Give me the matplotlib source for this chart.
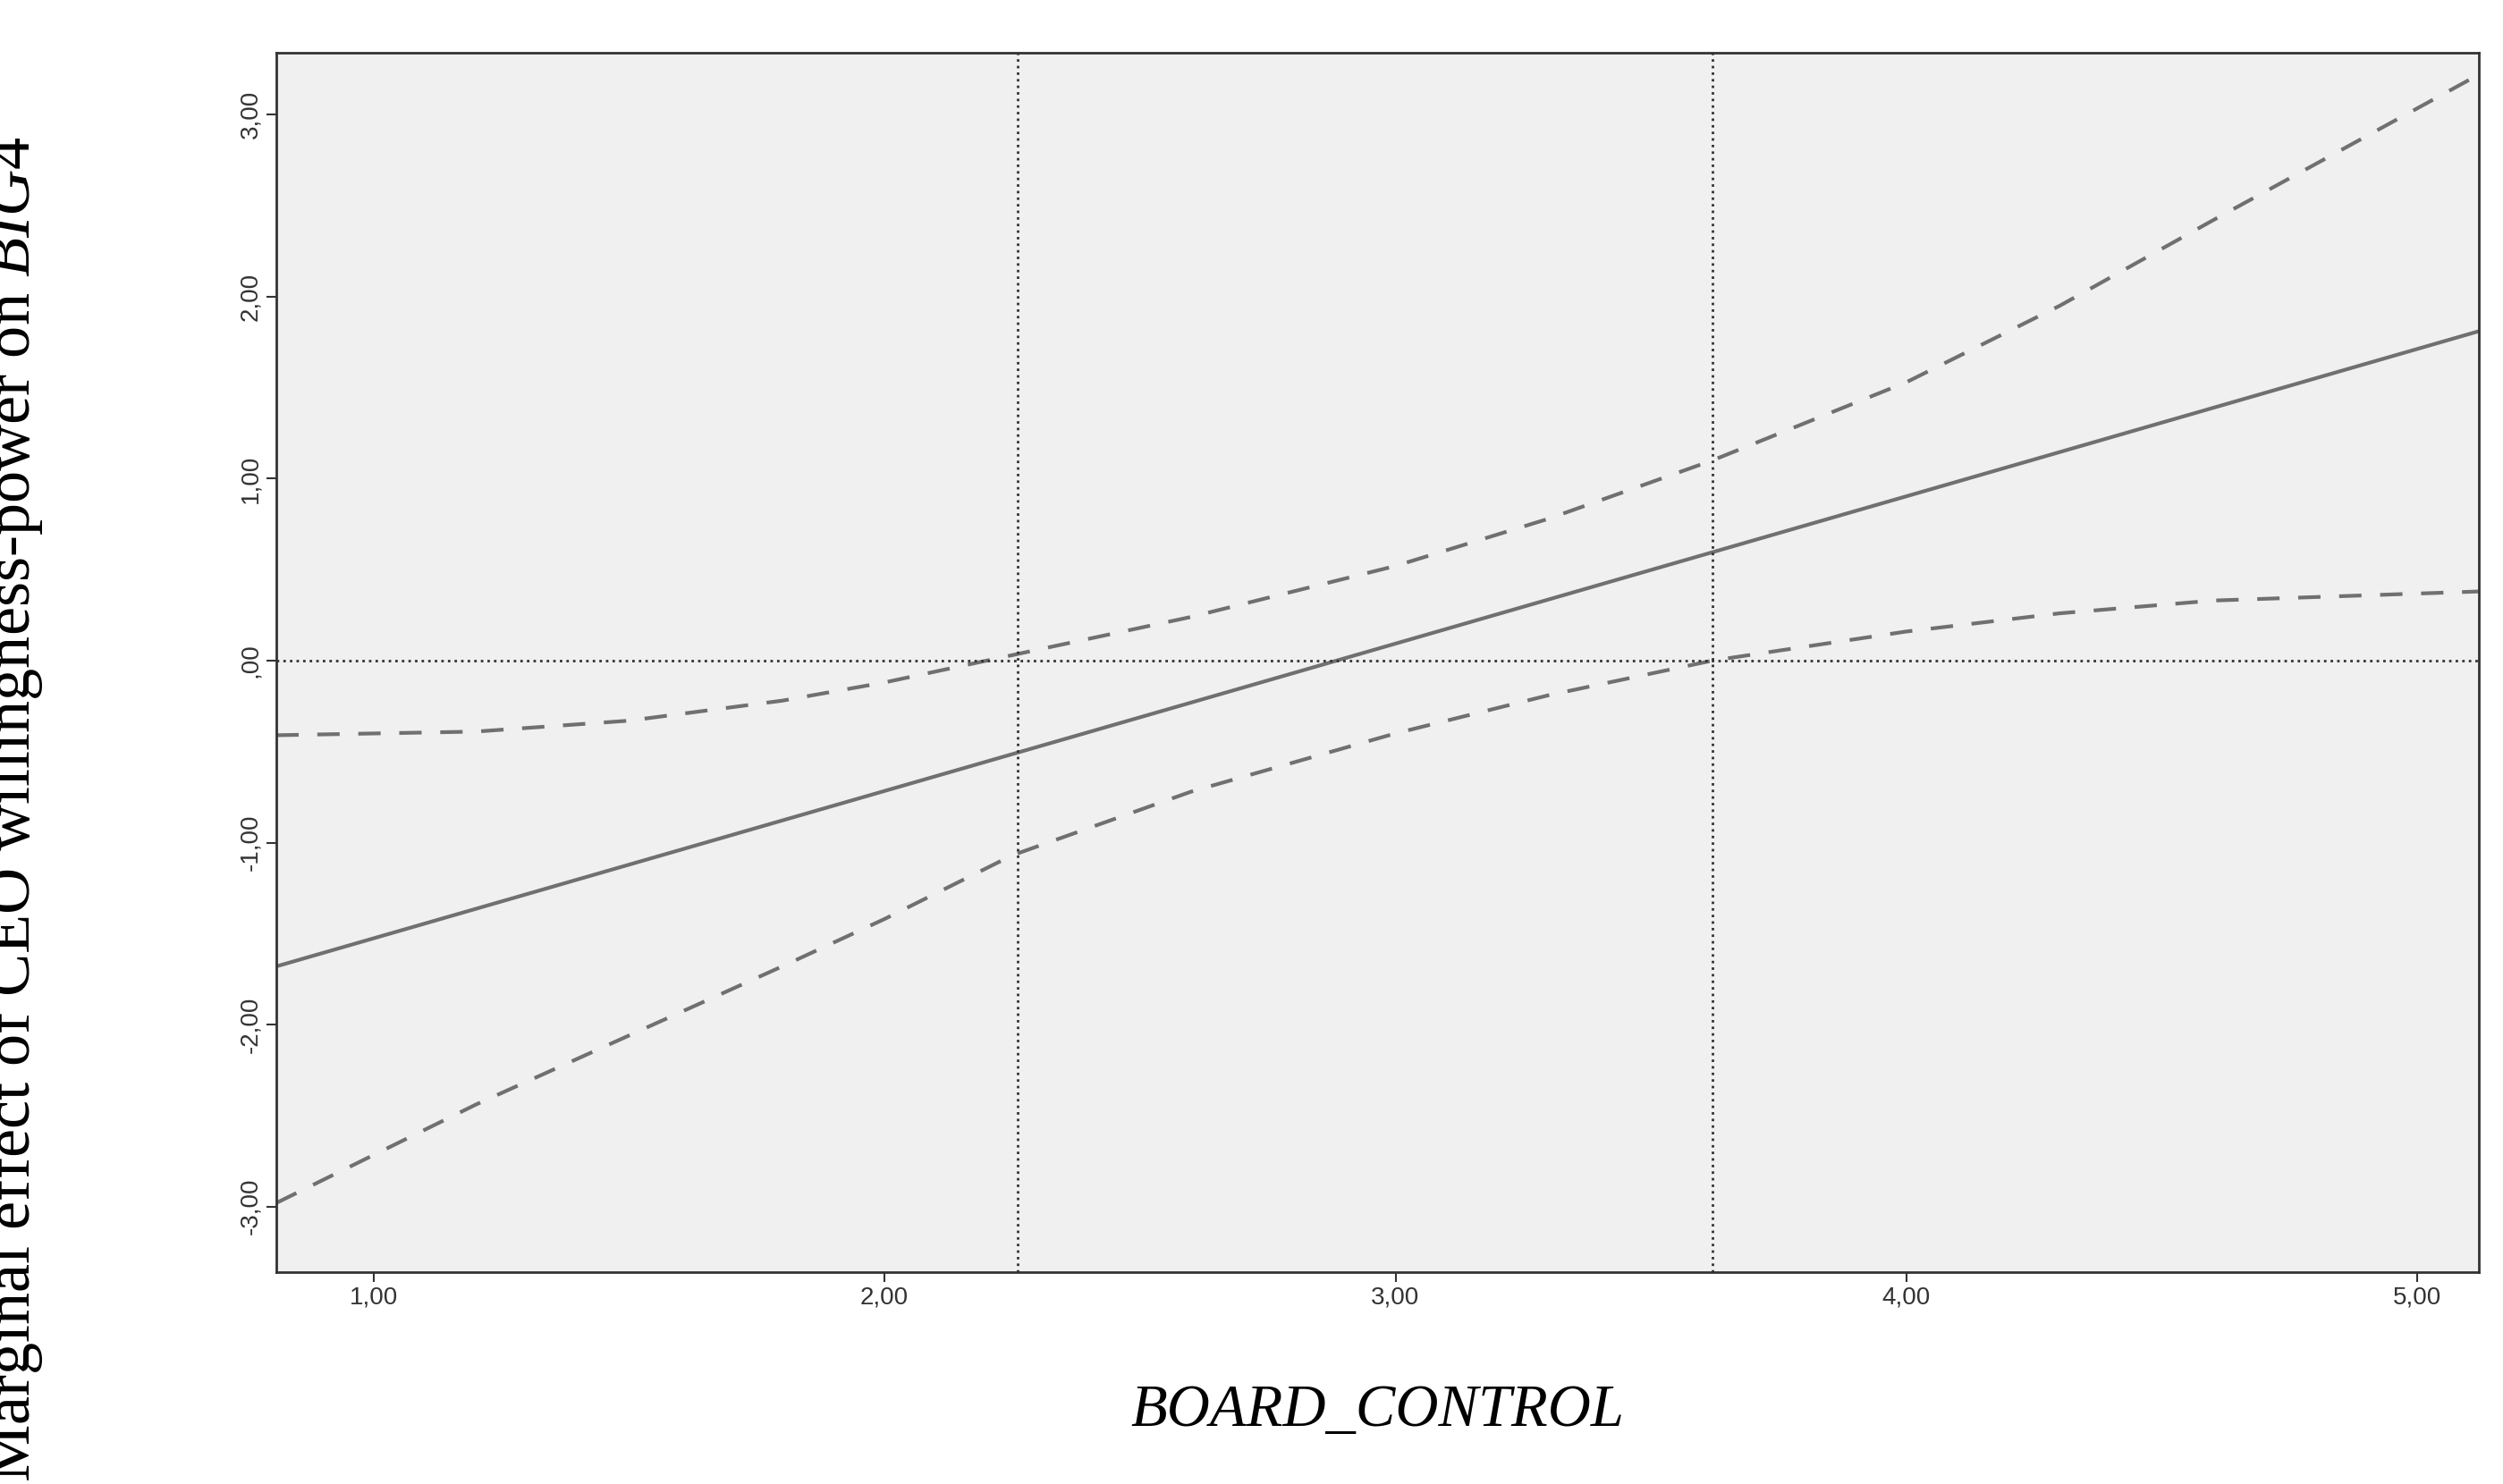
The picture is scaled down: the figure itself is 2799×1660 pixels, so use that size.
import numpy as np
import matplotlib.pyplot as plt

# values
x_line = [0.81, 5.12]
y_line = [-1.68, 1.81]
x_ci = [0.81, 1.2, 1.5, 1.8, 2.0, 2.25, 2.6, 3.0, 3.3, 3.62, 4.0, 4.3, 4.6, 5.12]
y_upper = [-0.41, -0.39, -0.33, -0.22, -0.12, 0.03, 0.24, 0.52, 0.78, 1.10, 1.53, 1.95, 2.42, 3.22]
y_lower = [-2.98, -2.44, -2.06, -1.68, -1.42, -1.07, -0.72, -0.40, -0.19, 0.00, 0.16, 0.26, 0.33, 0.38]
x_marks = [2.26, 3.62]
xticks = [1, 2, 3, 4, 5]
yticks = [-3, -2, -1, 0, 1, 2, 3]

plt.rcParams['mathtext.fontset'] = 'custom'
plt.rcParams['mathtext.rm'] = 'Liberation Serif'
plt.rcParams['mathtext.it'] = 'Liberation Serif:italic'

fig = plt.figure(figsize=(27.99, 16.60), dpi=100)
ax = fig.add_axes([309/2799, 1 - 1423/1660, (2772-309)/2799, (1423-59)/1660])
ax.set_facecolor('#f0f0f0')

col = '#707070'
ax.plot(x_line, y_line, '-', color=col, lw=3)
ax.plot(x_ci, y_upper, '--', color=col, lw=3, dashes=(6, 5))
ax.plot(x_ci, y_lower, '--', color=col, lw=3, dashes=(6, 5))
ax.axhline(0, color='#333333', ls=':', lw=2)
for xm in x_marks:
    ax.axvline(xm, color='#333333', ls=':', lw=2)

ax.set_xlim(0.81, 5.12)
ax.set_ylim(-3.36, 3.34)
ax.set_xticks(xticks)
ax.set_xticklabels([('%.2f' % v).replace('.', ',') for v in xticks],
                   fontsize=20, family='Liberation Sans')
ax.set_yticks(yticks)
ax.set_yticklabels([',00' if v == 0 else ('%.2f' % v).replace('.', ',') for v in yticks],
                   fontsize=20, family='Liberation Sans', rotation=90, va='center')
ax.tick_params(length=8, width=1.5, colors='#333333')
for s in ax.spines.values():
    s.set_color('#333333')
    s.set_linewidth(2)

ax.set_xlabel('BOARD_CONTROL', fontsize=48, family='Liberation Serif', style='italic', labelpad=60)
ax.set_ylabel(r'Marginal effect of CEO willingness-power on $\mathit{BIG4}$',
              fontsize=52, family='Liberation Serif', labelpad=80)
ax.yaxis.set_label_coords(-0.105, 0.38)

fig.savefig('out.png', dpi=100)
